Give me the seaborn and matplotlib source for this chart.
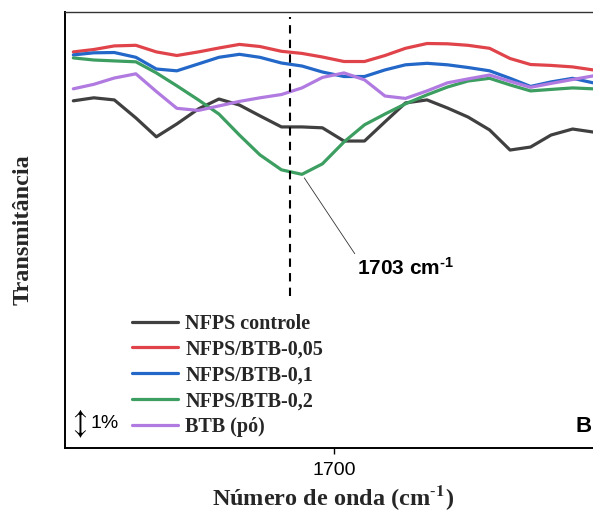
import matplotlib
matplotlib.use("Agg")
import matplotlib.pyplot as plt
from matplotlib.lines import Line2D
import pandas as pd
import seaborn as sns

# FTIR spectra, carbonyl region (wavenumber in cm-1, transmittance in %)
wavenumber = [1724.2, 1722.3, 1720.4, 1718.4, 1716.5, 1714.6, 1712.6, 1710.7,
              1708.8, 1706.9, 1704.9, 1703.0, 1701.1, 1699.1, 1697.2, 1695.3,
              1693.4, 1691.4, 1689.5, 1687.6, 1685.6, 1683.7, 1681.8, 1679.9,
              1677.9, 1676.0]

nfps_controle = [97.97, 98.07, 98.00, 97.40, 96.77, 97.20, 97.70, 98.03,
                 97.83, 97.47, 97.10, 97.10, 97.07, 96.63, 96.63, 97.27,
                 97.90, 98.00, 97.73, 97.43, 97.00, 96.33, 96.43, 96.83,
                 97.03, 96.93]
nfps_btb_005 = [99.60, 99.68, 99.80, 99.82, 99.60, 99.48, 99.60, 99.73,
                99.85, 99.78, 99.62, 99.55, 99.43, 99.28, 99.28, 99.48,
                99.72, 99.88, 99.87, 99.82, 99.72, 99.38, 99.18, 99.15,
                99.10, 99.00]
nfps_btb_01 = [99.50, 99.57, 99.58, 99.42, 99.03, 98.97, 99.20, 99.42,
               99.52, 99.42, 99.23, 99.13, 98.93, 98.78, 98.78, 99.00,
               99.17, 99.22, 99.17, 99.08, 98.97, 98.72, 98.45, 98.60,
               98.72, 98.57]
nfps_btb_02 = [99.40, 99.33, 99.30, 99.27, 98.90, 98.47, 98.00, 97.53,
               96.83, 96.17, 95.67, 95.52, 95.87, 96.60, 97.17, 97.53,
               97.87, 98.17, 98.43, 98.63, 98.72, 98.50, 98.30, 98.35,
               98.40, 98.37]
btb_po = [98.37, 98.52, 98.73, 98.87, 98.28, 97.72, 97.65, 97.80,
          97.95, 98.07, 98.18, 98.40, 98.75, 98.90, 98.67, 98.13,
          98.05, 98.30, 98.57, 98.70, 98.83, 98.62, 98.42, 98.55,
          98.68, 98.80]

series_names = ["NFPS controle", "NFPS/BTB-0,05", "NFPS/BTB-0,1",
                "NFPS/BTB-0,2", "BTB (pó)"]
series_colors = ["#404040", "#e0444a", "#2368c8", "#3c9e60", "#b07ae0"]

peak_wavenumber = 1703.0      # C=O band highlighted for NFPS/BTB-0,2
guide_x = 1704.1              # dashed reference line
x_ticks = [1700]

wide = pd.DataFrame({"Número de onda": wavenumber,
                     series_names[0]: nfps_controle,
                     series_names[1]: nfps_btb_005,
                     series_names[2]: nfps_btb_01,
                     series_names[3]: nfps_btb_02,
                     series_names[4]: btb_po})
long = wide.melt(id_vars="Número de onda", var_name="Amostra",
                 value_name="Transmitância")

sns.set_style("white")
plt.rcParams["font.family"] = ["Liberation Sans", "DejaVu Sans"]
plt.rcParams["mathtext.fontset"] = "custom"
plt.rcParams["mathtext.rm"] = "Liberation Sans:bold"
plt.rcParams["mathtext.bf"] = "Liberation Sans:bold"
plt.rcParams["mathtext.it"] = "Liberation Sans:bold"

W, H = 593, 529
fig = plt.figure(figsize=(W / 100, H / 100), dpi=100)
ax = fig.add_axes([64.7 / W, (H - 447.7) / H, (600 - 64.7) / W, 435.4 / H])

sns.lineplot(data=long, x="Número de onda", y="Transmitância", hue="Amostra",
             hue_order=series_names, palette=series_colors, linewidth=2.3,
             estimator=None, errorbar=None, legend=False, ax=ax)

ax.set_xlim(1725.0, 1675.36)
ax.set_ylim(86.41, 100.92)
ax.set_xticks(x_ticks)
ax.set_yticks([])
ax.tick_params(axis="x", direction="out", length=4, width=1.0, pad=6,
               labelsize=14, bottom=True, colors="black")

for side in ("left", "bottom"):
    ax.spines[side].set_color("black")
    ax.spines[side].set_linewidth(1.4)
ax.spines["top"].set_color("#333333")
ax.spines["top"].set_linewidth(1.0)
ax.spines["right"].set_visible(False)

# axis titles (bold serif)
serif_bold = dict(family="Liberation Serif", weight="bold", size=17.5)
ax.set_xlabel("Número de onda (cm$^{\\mathbf{\\text{-}1}}$)",
              fontdict=serif_bold, math_fontfamily="stix")
ax.xaxis.set_label_coords(0.502, -0.114)
ax.xaxis.label.set_va("center")
ax.set_ylabel("Transmitância", fontdict=serif_bold)
ax.yaxis.set_label_coords(-0.078, 0.50)
ax.yaxis.label.set_va("center")

# dashed guide through the carbonyl band
ax.vlines(guide_x, 91.47, 100.75, colors="black", linewidth=1.5,
          linestyles=(0, (4, 3)))

# peak annotation
green_min = min(nfps_btb_02)
ax.annotate("1703 cm$^{\\text{-}1}$", xy=(peak_wavenumber, green_min),
            xytext=(1697.9, 92.4), ha="left", va="center",
            fontsize=15, fontweight="bold", color="black",
            math_fontfamily="custom",
            arrowprops=dict(arrowstyle="-", color="#333333", lw=0.6,
                            shrinkA=0, shrinkB=3, relpos=(0.0, 1.0)))

# scale bar and panel letter
ax.text(1724.3, 87.22, "↕", ha="left", va="center", fontsize=21,
        family=["STIXGeneral", "DejaVu Sans"], color="black")
ax.text(1722.6, 87.22, "1%", ha="left", va="center", fontsize=14,
        color="black")
ax.text(1676.9, 87.1, "B", ha="center", va="center", fontsize=16,
        fontweight="bold", color="black")

# legend
handles = [Line2D([], [], color=c, linewidth=2.3) for c in series_colors]
ax.legend(handles, series_names, loc="lower left",
          bbox_to_anchor=(132 / W, (H - 437) / H),
          bbox_transform=fig.transFigure, frameon=False,
          prop=dict(family="Liberation Serif", weight="bold", size=14.5),
          handlelength=2.3, handletextpad=0.35, labelspacing=0.29,
          borderpad=0, borderaxespad=0)

fig.savefig("out.png", dpi=100, facecolor="white")
